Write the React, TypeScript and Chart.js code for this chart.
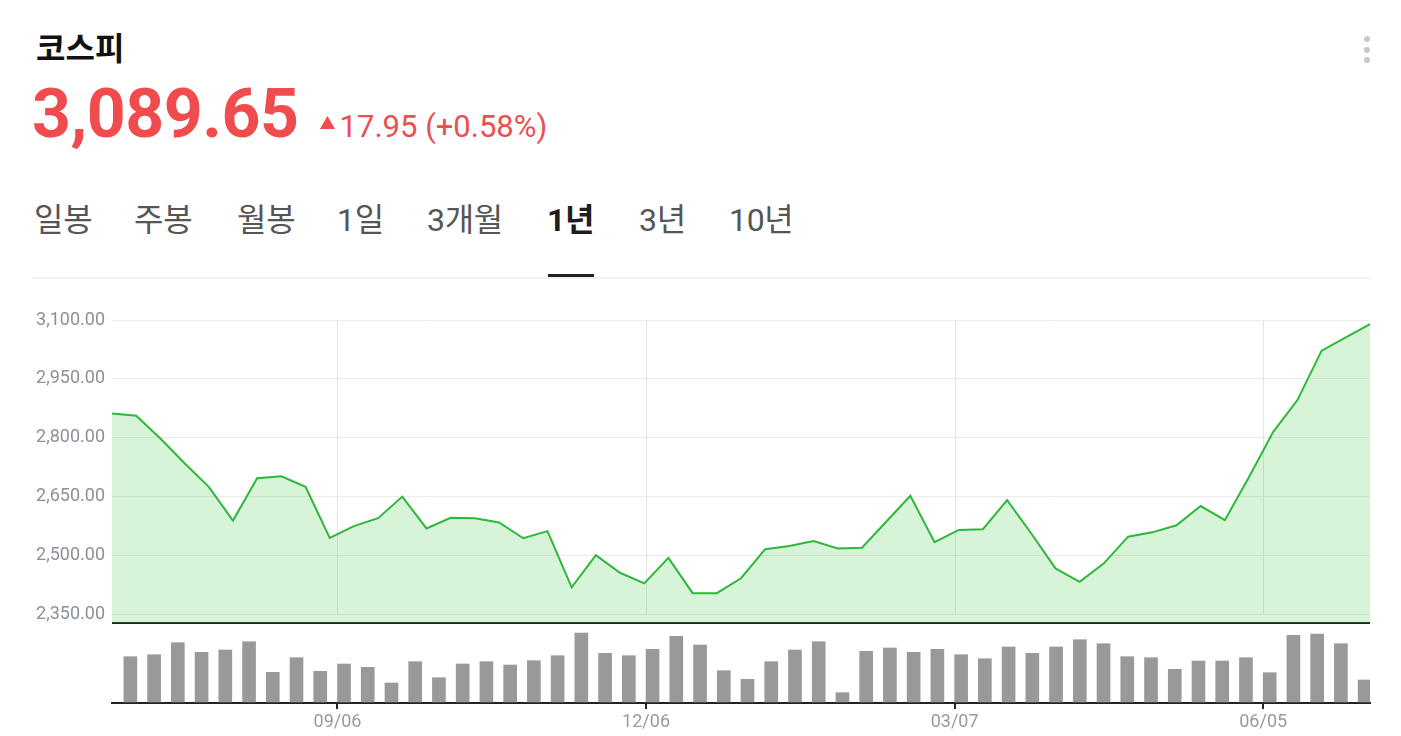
import React, { useEffect, useRef } from "react";
import { Chart, registerables } from "chart.js";

Chart.register(...registerables);

// ---- data ----
const dates = [
  "07/05", "07/12", "07/19", "07/26", "08/02", "08/09", "08/16", "08/23", "08/30", "09/06",
  "09/13", "09/20", "09/27", "10/04", "10/11", "10/18", "10/25", "11/01", "11/08", "11/15",
  "11/22", "11/29", "12/06", "12/13", "12/20", "12/27", "01/03", "01/10", "01/17", "01/24",
  "01/31", "02/07", "02/14", "02/21", "02/28", "03/07", "03/14", "03/21", "03/28", "04/04",
  "04/11", "04/18", "04/25", "05/02", "05/09", "05/16", "05/23", "05/30", "06/05", "06/13",
  "06/20", "06/27", "07/01",
];

const closes = [
  2862, 2856, 2798, 2735, 2675, 2589, 2697, 2702, 2675, 2545,
  2575, 2595, 2650, 2569, 2596, 2595, 2584, 2544, 2562, 2419,
  2501, 2456, 2429, 2494, 2404, 2404, 2442, 2516, 2524, 2537,
  2518, 2520, 2586, 2652, 2534, 2565, 2567, 2641, 2556, 2467,
  2433, 2480, 2548, 2559, 2577, 2626, 2590, 2700, 2815, 2896,
  3022, 3056, 3089.65,
];

const volumes = [
  463, 483, 603, 507, 530, 613, 307, 453, 317, 390,
  357, 200, 413, 253, 390, 413, 380, 423, 473, 700,
  497, 473, 537, 667, 580, 323, 237, 413, 530, 613,
  103, 517, 550, 507, 537, 483, 443, 560, 497, 560,
  633, 593, 463, 453, 337, 420, 420, 453, 303, 677,
  690, 593, 230,
];

const priceTicks = [2350, 2500, 2650, 2800, 2950, 3100];
const dateTickIndexes = [9, 22, 35, 48];
const tabs = ["일봉", "주봉", "월봉", "1일", "3개월", "1년", "3년", "10년"];
const selectedTab = "1년";

const title = "코스피";
const lastPrice = "3,089.65";
const change = "17.95";
const changePct = "(+0.58%)";

const FONT = "Roboto, 'Noto Sans CJK KR', sans-serif";
const KFONT = "'Noto Sans CJK KR', Roboto, sans-serif";

const tabLefts = [34, 134, 237, 337, 427, 547, 639, 729];

const verticalGrid = {
  id: "verticalGrid",
  beforeDatasetsDraw(chart: any) {
    const { ctx } = chart;
    const xs = chart.scales.x;
    const ys = chart.scales.y;
    const top = ys.getPixelForValue(priceTicks[priceTicks.length - 1]);
    const bottom = ys.getPixelForValue(priceTicks[0]);
    ctx.save();
    ctx.strokeStyle = "#e4e4e4";
    ctx.lineWidth = 1;
    dateTickIndexes.forEach((i) => {
      const px = Math.round(xs.getPixelForValue(i)) + 0.5;
      ctx.beginPath();
      ctx.moveTo(px, top);
      ctx.lineTo(px, bottom);
      ctx.stroke();
    });
    ctx.restore();
  },
};

function StockChart() {
  const ref = useRef<HTMLCanvasElement | null>(null);
  useEffect(() => {
    if (!ref.current) return;
    const chart = new Chart(ref.current, {
      type: "bar",
      data: {
        labels: dates,
        datasets: [
          {
            type: "line",
            data: closes,
            xAxisID: "xLine",
            yAxisID: "y",
            borderColor: "#2db83a",
            borderWidth: 2,
            backgroundColor: "rgba(60,200,60,0.2)",
            fill: "start",
            pointRadius: 0,
            tension: 0,
            order: 0,
          } as any,
          {
            type: "bar",
            data: volumes,
            xAxisID: "x",
            yAxisID: "yVol",
            backgroundColor: "#999999",
            barThickness: 13,
            order: 1,
          } as any,
        ],
      },
      options: {
        animation: false,
        responsive: false,
        maintainAspectRatio: false,
        layout: { padding: { left: 0, right: 31, top: 30, bottom: 0 } },
        plugins: { legend: { display: false }, tooltip: { enabled: false } },
        scales: {
          x: {
            type: "category",
            offset: true,
            afterBuildTicks: (s: any) => {
              s.ticks = dateTickIndexes.map((i) => ({ value: i }));
            },
            afterFit: (s: any) => {
              s.height = 33;
            },
            ticks: {
              autoSkip: false,
              maxRotation: 0,
              color: "#9a9a9a",
              padding: 3,
              font: { family: FONT, size: 18 },
            },
            grid: {
              offset: false,
              drawOnChartArea: false,
              drawTicks: true,
              tickLength: 6,
              color: "#222222",
              lineWidth: 2,
            },
            border: { display: true, color: "#222222", width: 2 },
          },
          xLine: {
            type: "category",
            offset: false,
            display: false,
          },
          yVol: {
            type: "linear",
            position: "left",
            stack: "main",
            stackWeight: 80,
            min: 0,
            max: 800,
            afterBuildTicks: (s: any) => {
              s.ticks = [{ value: 0 }, { value: 800 }];
            },
            afterFit: (s: any) => {
              s.width = 112;
            },
            ticks: { display: false },
            grid: {
              drawTicks: false,
              color: (c: any) => (c.tick && c.tick.value === 800 ? "#222222" : "rgba(0,0,0,0)"),
              lineWidth: 2,
            },
            border: { display: false },
          },
          y: {
            type: "linear",
            position: "left",
            stack: "main",
            stackWeight: 303,
            min: 2328,
            max: 3100,
            afterBuildTicks: (s: any) => {
              s.ticks = priceTicks.map((v) => ({ value: v }));
            },
            afterFit: (s: any) => {
              s.width = 112;
            },
            ticks: {
              color: "#8b9099",
              padding: 7,
              font: { family: FONT, size: 18 },
              callback: (v: any) =>
                Number(v).toLocaleString("en-US", {
                  minimumFractionDigits: 2,
                  maximumFractionDigits: 2,
                }),
            },
            grid: { color: "#ebebeb", lineWidth: 1, drawTicks: false },
            border: { display: false },
          },
        },
      } as any,
      plugins: [verticalGrid],
    });
    return () => chart.destroy();
  }, []);
  return (
    <canvas
      ref={ref}
      width={1401}
      height={446}
      style={{ position: "absolute", left: 0, top: 290, width: 1401, height: 446 }}
    />
  );
}

export default function App() {
  return (
    <div
      style={{
        position: "fixed",
        left: 0,
        top: 0,
        width: 1401,
        height: 736,
        background: "#ffffff",
        overflow: "hidden",
        fontFamily: FONT,
      }}
    >
      <div
        style={{
          position: "absolute",
          left: 36,
          top: 26,
          fontFamily: KFONT,
          fontWeight: 700,
          fontSize: 32,
          lineHeight: "40px",
          color: "#111111",
        }}
      >
        {title}
      </div>
      <div style={{ position: "absolute", left: 1364, top: 36, width: 7 }}>
        {[0, 1, 2].map((k) => (
          <div
            key={k}
            style={{
              width: 6,
              height: 6,
              borderRadius: 3,
              background: "#c5c8cc",
              marginBottom: 4.5,
            }}
          />
        ))}
      </div>
      <div
        style={{
          position: "absolute",
          left: 32,
          top: 76,
          display: "flex",
          alignItems: "baseline",
          color: "#f04b4d",
        }}
      >
        <span style={{ fontWeight: 700, fontSize: 68, lineHeight: "76px", letterSpacing: -0.5 }}>
          {lastPrice}
        </span>
        <span
          style={{
            marginLeft: 21,
            fontSize: 16,
            lineHeight: "20px",
            position: "relative",
            top: -8,
          }}
        >
          ▲
        </span>
        <span style={{ marginLeft: 4, fontSize: 31, lineHeight: "34px", color: "#e95050" }}>
          {change} {changePct}
        </span>
      </div>
      {tabs.map((t, i) => (
        <div
          key={t}
          style={{
            position: "absolute",
            left: tabLefts[i],
            top: 198,
            fontSize: 32,
            lineHeight: "44px",
            fontWeight: t === selectedTab ? 700 : 400,
            color: t === selectedTab ? "#1e1e1e" : "#555555",
            letterSpacing: -0.3,
          }}
        >
          {t}
          {t === selectedTab && (
            <div
              style={{
                position: "absolute",
                left: 1,
                right: 0,
                top: 76,
                height: 3,
                background: "#222222",
              }}
            />
          )}
        </div>
      ))}
      <div
        style={{
          position: "absolute",
          left: 32,
          width: 1338,
          top: 277,
          height: 2,
          background: "#f1f1f1",
        }}
      />
      <StockChart />
    </div>
  );
}
